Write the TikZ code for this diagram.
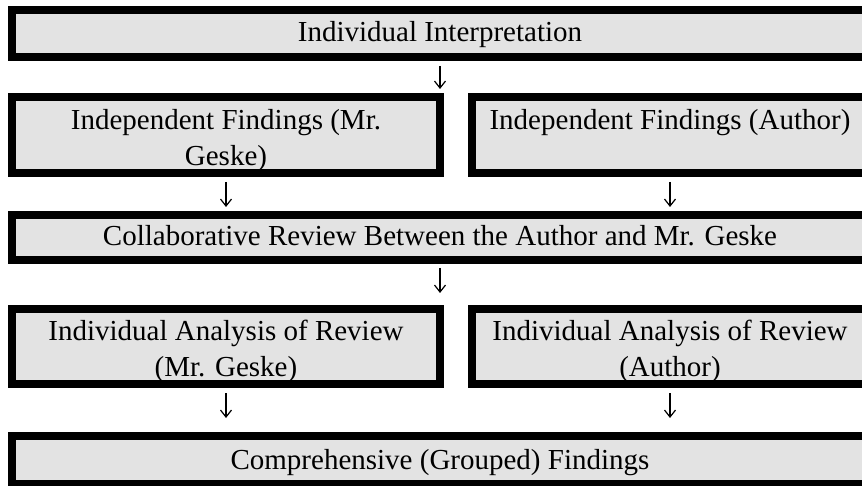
\documentclass[tikz,border=0pt]{standalone}
\usepackage{fontspec}
\setmainfont{Liberation Serif}
\usetikzlibrary{arrows.meta}
\definecolor{boxgray}{RGB}{227,227,227}
\newcommand\tcell[2][0pt]{\raisebox{-#1}[\height][\depth]{\begin{tabular}{@{}c@{}}#2\end{tabular}}}
\tikzset{
  flowbox/.style={draw=black, line width=8pt, fill=boxgray, rectangle, inner sep=0pt,
    font=\fontsize{29}{36}\selectfont},
  arr/.style={line width=1.2pt, -{Straight Barb[length=7pt,width=11pt,line width=1.2pt]}}
}
\begin{document}
\begin{tikzpicture}[x=1pt,y=-1pt]
\useasboundingbox (0,0) rectangle (862,486);
\clip (0,0) rectangle (862,486);
\node[flowbox, minimum width=856pt, minimum height=47pt] (b1) at (440,33.5) {\tcell[1pt]{Individual Interpretation}};
\node[flowbox, minimum width=428pt, minimum height=76pt] (b2l) at (226,135) {\tcell[5pt]{Independent Findings (Mr.\\Geske)}};
\node[flowbox, minimum width=396pt, minimum height=76pt] (b2r) at (670,135) {\tcell[5pt]{Independent Findings (Author)\\\mbox{}}};
\node[flowbox, minimum width=856pt, minimum height=45pt] (b3) at (440,237.5) {\tcell[1pt]{Collaborative Review Between the Author and Mr. Geske}};
\node[flowbox, minimum width=428pt, minimum height=75pt] (b4l) at (226,346.5) {\tcell[5pt]{Individual Analysis of Review\\(Mr. Geske)}};
\node[flowbox, minimum width=396pt, minimum height=75pt] (b4r) at (670,346.5) {\tcell[5pt]{Individual Analysis of Review\\(Author)}};
\node[flowbox, minimum width=856pt, minimum height=48pt] (b5) at (440,460) {\tcell[2pt]{Comprehensive (Grouped) Findings}};
\draw[arr, shorten <=5pt, shorten >=4pt] (b1.south) -- (b1.south |- b2l.north);
\draw[arr, shorten <=5pt, shorten >=4pt] (b2l.south) -- (b2l.south |- b3.north);
\draw[arr, shorten <=5pt, shorten >=4pt] (b2r.south) -- (b2r.south |- b3.north);
\draw[arr, shorten <=4pt, shorten >=12pt] (b3.south) -- (b3.south |- b4l.north);
\draw[arr, shorten <=5pt, shorten >=14pt] (b4l.south) -- (b4l.south |- b5.north);
\draw[arr, shorten <=5pt, shorten >=14pt] (b4r.south) -- (b4r.south |- b5.north);
\end{tikzpicture}
\end{document}
